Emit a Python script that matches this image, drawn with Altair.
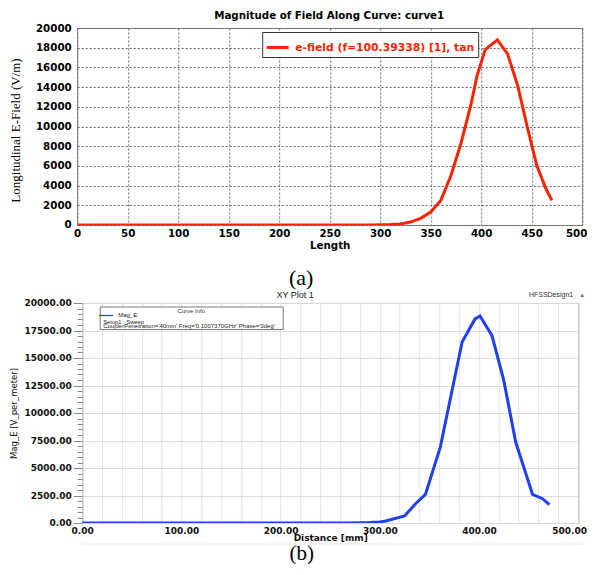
import altair as alt
import pandas as pd

# ---------------- data ----------------
# (a) Magnitude of Field Along Curve
len_a = [0, 100, 200, 290, 300, 310, 320, 330, 340, 350, 360, 370, 380, 390,
         396, 404, 416, 426, 436, 446, 455, 464, 470]
field_a = [0, 0, 0, 0, 20, 50, 110, 300, 680, 1320, 2500, 5000, 8300, 12300,
           15200, 17800, 18800, 17400, 14200, 9800, 6050, 3700, 2500]
series_a = "e-field (f=100.39338) [1], tan"

# (b) XY Plot 1 (HFSS)
dist_b = [0, 100, 200, 270, 290, 300, 306, 325, 336, 346, 361, 383, 396, 401,
          413, 425, 437, 454, 464, 471]
mag_b = [0, 0, 0, 0, 40, 90, 180, 640, 1750, 2600, 6900, 16450, 18550, 18820,
         17050, 12960, 7360, 2600, 2210, 1660]
series_b = "Mag_E"

ticks_a_x = list(range(0, 501, 50))
ticks_a_y = list(range(0, 20001, 2000))
ticks_b_x = list(range(0, 501, 20))
ticks_b_y = list(range(0, 20001, 500))

title_a = "Magnitude of Field Along Curve: curve1"
title_b = "XY Plot 1"
legend_b_lines = ["Setup1 : Sweep",
                  "CouplerPenetration='40mm' Freq='0.1007370GHz' Phase='0deg'"]

df_a = pd.DataFrame({"Length": len_a, "E": field_a, "series": series_a})
df_b = pd.DataFrame({"Distance": dist_b, "Mag": mag_b, "series": series_b})
one = pd.DataFrame({"k": [0]})

SANS_B = "DejaVu Sans"
W_A, H_A = 505, 197
W_B, H_B = 496, 220


def note(text, x, y, size, font="Liberation Sans", weight="normal",
         color="black", align="left"):
    return alt.Chart(one).mark_text(
        text=text, font=font, fontSize=size, fontWeight=weight, color=color,
        align=align, baseline="middle"
    ).encode(x=alt.value(x), y=alt.value(y))


# ---------------- chart (a) ----------------
line_a = alt.Chart(df_a).mark_line(strokeWidth=3, clip=True).encode(
    x=alt.X("Length:Q",
            scale=alt.Scale(domain=[0, 500], nice=False),
            axis=alt.Axis(values=ticks_a_x, title="Length", format="d",
                          ticks=False, domain=False, labelPadding=4,
                          labelOffset={"condition": {"test": "datum.value === 500", "value": -6}, "value": 0},
                          labelFont=SANS_B, labelFontSize=10.3,
                          labelFontWeight="bold", labelColor="black",
                          titleFont=SANS_B, titleFontSize=10.3,
                          titleFontWeight="bold", titleColor="black",
                          titleBaseline="middle", titleY=21,
                          grid=True, gridColor="#666", gridDash=[2, 2],
                          gridWidth=1, labelFlush=False)),
    y=alt.Y("E:Q",
            scale=alt.Scale(domain=[0, 20000], nice=False),
            axis=alt.Axis(values=ticks_a_y, title="Longitudinal E-Field (V/m)",
                          format="d", ticks=False, domain=False, labelPadding=6,
                          labelFont=SANS_B, labelFontSize=10.3,
                          labelFontWeight="bold", labelColor="black",
                          titleFont="Liberation Serif", titleFontSize=13,
                          titleFontWeight="normal", titleColor="black",
                          titleBaseline="middle", titleAlign="center",
                          titleAngle=270, titleX=-62, titleY=102,
                          grid=True, gridColor="#666", gridDash=[2, 2],
                          gridWidth=1)),
    color=alt.Color("series:N",
                    scale=alt.Scale(domain=[series_a], range=["#ff2200"]),
                    legend=alt.Legend(title=None, orient="none",
                                      legendX=185, legendY=4,
                                      symbolType="stroke", symbolSize=484,
                                      symbolStrokeWidth=3,
                                      labelColor="#ff2200", labelFont=SANS_B,
                                      labelFontSize=10.8, labelFontWeight="bold",
                                      labelLimit=0, labelOffset=5,
                                      strokeColor="#333", fillColor="white",
                                      padding=3)),
)

chart_a = alt.layer(
    line_a,
    note(title_a, 252, -12.3, 10.3, font=SANS_B, weight="bold", align="center"),
    note("(a)", 224, 250, 22, font="Liberation Serif", align="center"),
).properties(
    width=W_A, height=H_A,
    view=alt.ViewBackground(stroke="#888", strokeWidth=1),
)

# ---------------- chart (b) ----------------
box_b = alt.Chart(one).mark_rect(fill="white", stroke="#777",
                                 strokeWidth=1).encode(
    x=alt.value(18), x2=alt.value(201), y=alt.value(4), y2=alt.value(26.5))

line_b = alt.Chart(df_b).mark_line(strokeWidth=3, clip=True).encode(
    x=alt.X("Distance:Q",
            scale=alt.Scale(domain=[0, 500], nice=False),
            axis=alt.Axis(values=ticks_b_x, title="Distance [mm]",
                          labelExpr="datum.value % 100 === 0 ? format(datum.value, '.2f') : ''",
                          labelOffset={"condition": {"test": "datum.value === 500", "value": -9}, "value": 0},
                          ticks=False, domain=False, labelPadding=4,
                          labelFont=SANS_B, labelFontSize=9,
                          labelFontWeight="bold", labelColor="#111",
                          labelFlush=False,
                          titleFont=SANS_B, titleFontSize=9,
                          titleFontWeight="bold", titleColor="#111",
                          titleBaseline="middle", titleY=15,
                          grid=True, gridColor="#e2e2e2", gridWidth=1)),
    y=alt.Y("Mag:Q",
            scale=alt.Scale(domain=[0, 20000], nice=False),
            axis=alt.Axis(values=ticks_b_y, title="Mag_E [V_per_meter]",
                          labelExpr="datum.value % 2500 === 0 ? format(datum.value, '.2f') : ''",
                          ticks=True, tickColor="#888",
                          tickSize={"condition": {"test": "datum.value % 2500 === 0", "value": 9}, "value": 5},
                          domain=False, labelPadding=2,
                          labelFont=SANS_B, labelFontSize=9,
                          labelFontWeight="bold", labelColor="#111",
                          titleFont="Liberation Sans Narrow, DejaVu Sans Condensed, Liberation Sans",
                          titleFontSize=9.5, titleFontWeight="normal",
                          titleColor="#111",
                          titleBaseline="middle", titleAlign="center",
                          titleAngle=270, titleX=-68.7, titleY=110,
                          grid=True, gridColor="#dcdcdc", gridWidth=1,
                          gridOpacity={"condition": {"test": "datum.value % 2500 === 0", "value": 1}, "value": 0})),
    color=alt.Color("series:N",
                    scale=alt.Scale(domain=[series_b], range=["#1f3ff5"]),
                    legend=alt.Legend(title=None, orient="none",
                                      legendX=21, legendY=4.5,
                                      symbolType="stroke", symbolSize=196,
                                      symbolStrokeWidth=1.2,
                                      labelFont="Liberation Sans",
                                      labelFontSize=6, labelColor="#222",
                                      labelOffset=4, labelLimit=0,
                                      padding=0)),
)

chart_b = alt.layer(
    box_b,
    line_b,
    note("Curve Info", 109, 8, 6, color="#333", align="center"),
    note(legend_b_lines[0], 21, 19, 5.8, color="#222"),
    note(legend_b_lines[1], 21, 23.2, 6, color="#222"),
    note(title_b, 213, -7.6, 9, color="#222", align="center"),
    note("HFSSDesign1", 491, -7.5, 7, color="#333", align="right"),
    note("\u25B2", 500, -8, 6, color="#b05050", align="center"),
    note("(b)", 219.5, 251, 21, font="Liberation Serif", align="center"),
    alt.Chart(one).mark_rule(color="#e6e6e6", strokeWidth=1).encode(
        x=alt.value(0), x2=alt.value(500), y=alt.value(241)),
).properties(
    width=W_B, height=H_B,
    view=alt.ViewBackground(stroke="#555", strokeWidth=1),
)

# thin invisible spacer that shifts panel (b) 5 px to the right of panel (a)
spacer = alt.Chart(one).mark_point(opacity=0).properties(
    width=1, height=H_B, view=alt.ViewBackground(stroke="transparent"))

row_b = alt.hconcat(spacer, chart_b, spacing=4, bounds="flush")

chart = alt.vconcat(chart_a, row_b, spacing=78, bounds="flush").resolve_scale(
    color="independent"
).resolve_legend(color="independent").properties(
    padding={"left": -0.8, "top": 2, "right": -1.5, "bottom": -1.2},
    background="white",
)

chart.save("out.html", embed_options={"renderer": "svg", "actions": False})
